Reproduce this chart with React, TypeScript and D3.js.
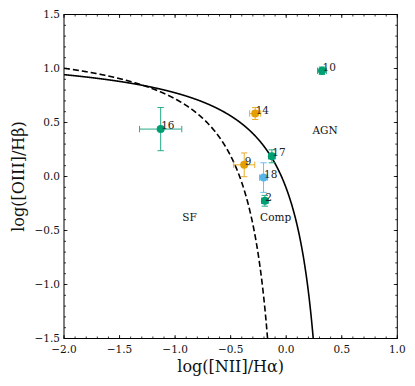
import React, { useEffect, useRef } from "react";
import * as d3 from "d3";

// BPT diagram values
const ids = ["2", "9", "10", "14", "16", "17", "18"];
const logNII = [-0.192, -0.378, 0.322, -0.279, -1.13, -0.129, -0.204];
const logOIII = [-0.225, 0.108, 0.979, 0.583, 0.439, 0.187, -0.01];
const errNII = [0.03, 0.095, 0.04, 0.05, 0.19, 0.03, 0.036];
const errOIII = [0.05, 0.11, 0.035, 0.055, 0.2, 0.06, 0.137];
const groups = ["green", "orange", "green", "orange", "green", "green", "blue"];

const xTicks = [-2.0, -1.5, -1.0, -0.5, 0.0, 0.5, 1.0];
const yTicks = [-1.5, -1.0, -0.5, 0.0, 0.5, 1.0, 1.5];

// demarcation curves: log(OIII/Hb) = a / (x - b) + c
const kewley = { a: 0.61, b: 0.47, c: 1.19 };
const kauffmann = { a: 0.61, b: 0.05, c: 1.3 };

const regionLabels = [
  { text: "SF", x: -0.87, y: -0.41 },
  { text: "Comp", x: -0.095, y: -0.41 },
  { text: "AGN", x: 0.35, y: 0.39 },
];

const colors: Record<string, string> = {
  green: "#009E73",
  orange: "#E69F00",
  blue: "#56B4E9",
};

const fmt = (v: number) => d3.format(".1f")(v).replace("-", "\u2212");

const App = () => {
  const svgRef = useRef<SVGSVGElement>(null);

  useEffect(() => {
    const margin = { top: 14.5, right: 17.7, bottom: 47.5, left: 64 };
    const W = 415;
    const H = 386;
    const width = W - margin.left - margin.right;
    const height = H - margin.top - margin.bottom;
    const font = "'DejaVu Serif', serif";

    const root = d3.select(svgRef.current);
    root.selectAll("*").remove();

    const g = root
      .append("g")
      .attr("transform", `translate(${margin.left},${margin.top})`);

    const x = d3.scaleLinear().domain([-2, 1]).range([0, width]);
    const y = d3.scaleLinear().domain([-1.5, 1.5]).range([height, 0]);

    root
      .append("defs")
      .append("clipPath")
      .attr("id", "plot-clip")
      .append("rect")
      .attr("width", width)
      .attr("height", height);

    // curves
    const curve = (p: { a: number; b: number; c: number }) => {
      const xs = d3.range(-2, p.b - 0.001, 0.002);
      return d3
        .line<number>()
        .x((v) => x(v))
        .y((v) => y(p.a / (v - p.b) + p.c))(xs.filter((v) => p.a / (v - p.b) + p.c > -1.7));
    };

    const plot = g.append("g").attr("clip-path", "url(#plot-clip)");
    plot
      .append("path")
      .attr("d", curve(kewley))
      .attr("fill", "none")
      .attr("stroke", "#000")
      .attr("stroke-width", 1.6);
    plot
      .append("path")
      .attr("d", curve(kauffmann))
      .attr("fill", "none")
      .attr("stroke", "#000")
      .attr("stroke-width", 1.6)
      .attr("stroke-dasharray", "6,3");

    // error bars
    const cap = 3.2;
    ids.forEach((id, i) => {
      const c = colors[groups[i]];
      const cx = x(logNII[i]);
      const cy = y(logOIII[i]);
      const x0 = x(logNII[i] - errNII[i]);
      const x1 = x(logNII[i] + errNII[i]);
      const y0 = y(logOIII[i] - errOIII[i]);
      const y1 = y(logOIII[i] + errOIII[i]);
      const eb = plot.append("g").attr("stroke", c).attr("stroke-width", 1).attr("opacity", 0.85);
      eb.append("line").attr("x1", x0).attr("x2", x1).attr("y1", cy).attr("y2", cy);
      eb.append("line").attr("x1", cx).attr("x2", cx).attr("y1", y0).attr("y2", y1);
      eb.append("line").attr("x1", x0).attr("x2", x0).attr("y1", cy - cap).attr("y2", cy + cap);
      eb.append("line").attr("x1", x1).attr("x2", x1).attr("y1", cy - cap).attr("y2", cy + cap);
      eb.append("line").attr("x1", cx - cap).attr("x2", cx + cap).attr("y1", y0).attr("y2", y0);
      eb.append("line").attr("x1", cx - cap).attr("x2", cx + cap).attr("y1", y1).attr("y2", y1);
    });

    // markers
    plot
      .selectAll(".dot")
      .data(ids)
      .enter()
      .append("circle")
      .attr("cx", (_, i) => x(logNII[i]))
      .attr("cy", (_, i) => y(logOIII[i]))
      .attr("r", 4)
      .attr("fill", (_, i) => colors[groups[i]]);

    // point labels
    plot
      .selectAll(".lbl")
      .data(ids)
      .enter()
      .append("text")
      .attr("x", (_, i) => x(logNII[i]) + 0.5)
      .attr("y", (_, i) => y(logOIII[i]))
      .attr("font-family", font)
      .attr("font-size", 10.5)
      .attr("fill", "#222")
      .text((d) => d);

    // region labels
    g.selectAll(".region")
      .data(regionLabels)
      .enter()
      .append("text")
      .attr("x", (d) => x(d.x))
      .attr("y", (d) => y(d.y))
      .attr("text-anchor", "middle")
      .attr("font-family", font)
      .attr("font-size", 10.5)
      .attr("fill", "#111")
      .text((d) => d.text);

    // ticks on all four sides, pointing inward
    const minorX = d3.range(-2, 1.0001, 0.1);
    const minorY = d3.range(-1.5, 1.5001, 0.1);
    const ticks = g.append("g").attr("stroke", "#000").attr("stroke-width", 0.8);
    const addTicks = (vals: number[], len: number) => {
      vals.forEach((v) => {
        const px = x(v);
        ticks.append("line").attr("x1", px).attr("x2", px).attr("y1", height).attr("y2", height - len);
        ticks.append("line").attr("x1", px).attr("x2", px).attr("y1", 0).attr("y2", len);
      });
    };
    const addYTicks = (vals: number[], len: number) => {
      vals.forEach((v) => {
        const py = y(v);
        ticks.append("line").attr("x1", 0).attr("x2", len).attr("y1", py).attr("y2", py);
        ticks.append("line").attr("x1", width).attr("x2", width - len).attr("y1", py).attr("y2", py);
      });
    };
    addTicks(minorX, 2);
    addTicks(xTicks, 3.5);
    addYTicks(minorY, 2);
    addYTicks(yTicks, 3.5);

    g.append("rect")
      .attr("width", width)
      .attr("height", height)
      .attr("fill", "none")
      .attr("stroke", "#000")
      .attr("stroke-width", 1);

    // tick labels
    g.selectAll(".xt")
      .data(xTicks)
      .enter()
      .append("text")
      .attr("x", (d) => x(d))
      .attr("y", height + 14)
      .attr("text-anchor", "middle")
      .attr("font-family", font)
      .attr("font-size", 10.5)
      .attr("fill", "#111")
      .text((d) => fmt(d));

    g.selectAll(".yt")
      .data(yTicks)
      .enter()
      .append("text")
      .attr("x", -4)
      .attr("y", (d) => y(d))
      .attr("dy", "0.35em")
      .attr("text-anchor", "end")
      .attr("font-family", font)
      .attr("font-size", 10.5)
      .attr("fill", "#111")
      .text((d) => fmt(d));

    // axis titles
    g.append("text")
      .attr("x", width / 2)
      .attr("y", height + 33)
      .attr("text-anchor", "middle")
      .attr("font-family", font)
      .attr("font-size", 16)
      .attr("fill", "#111")
      .text("log([NII]/H\u03B1)");

    root
      .append("text")
      .attr("transform", `translate(23.5,${margin.top + height / 2}) rotate(-90)`)
      .attr("text-anchor", "middle")
      .attr("font-family", font)
      .attr("font-size", 16)
      .attr("fill", "#111")
      .text("log([OIII]/H\u03B2)");
  }, []);

  return (
    <svg
      ref={svgRef}
      width={415}
      height={386}
      style={{ position: "absolute", left: 0, top: 0, background: "#fff" }}
    ></svg>
  );
};

export default App;
